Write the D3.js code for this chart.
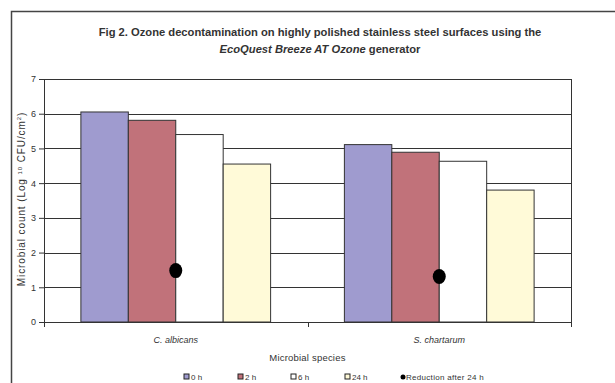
<!DOCTYPE html>
<html>
<head>
<meta charset="utf-8">
<script src="https://cdn.jsdelivr.net/npm/d3@7"></script>
<style>
  body { margin: 0; background: #fff; }
  text { font-family: "Liberation Sans", Arial, sans-serif; fill: #222; }
</style>
</head>
<body>
<div id="chart"></div>
<script>
// data
const species = ["C. albicans", "S. chartarum"];
const times = ["0 h", "2 h", "6 h", "24 h"];
const counts = [
    [6.05, 5.81, 5.40, 4.55],   // C. albicans
    [5.11, 4.89, 4.63, 3.80]    // S. chartarum
];
const reduction = [1.48, 1.31];
const yTicks = [0, 1, 2, 3, 4, 5, 6, 7];
const colors = ["#9f9bcf", "#c1727a", "#ffffff", "#fffad8"];

const W = 615, H = 383;
const margin = {top: 79, right: 44, bottom: 61, left: 44};
const width = W - margin.left - margin.right;
const height = H - margin.top - margin.bottom;

const svg = d3.select("#chart").append("svg")
    .attr("width", W)
    .attr("height", H);

// outer frame (runs off the right and bottom edge)
svg.append("path")
    .attr("d", `M11.5,${H + 2}V11.5H${W + 2}`)
    .attr("fill", "none")
    .attr("stroke", "#444")
    .attr("stroke-width", 1.5);

// title
const title = svg.append("text")
    .attr("x", 320)
    .attr("y", 36)
    .attr("text-anchor", "middle")
    .style("font-size", "11.2px")
    .style("font-weight", "bold")
    .style("fill", "#333");
title.append("tspan").text("Fig 2. Ozone decontamination on highly polished stainless steel surfaces using the");
const t2 = svg.append("text")
    .attr("x", 320)
    .attr("y", 53)
    .attr("text-anchor", "middle")
    .style("font-size", "11.2px")
    .style("font-weight", "bold")
    .style("fill", "#333");
t2.append("tspan").style("font-style", "italic").text("EcoQuest Breeze AT Ozone");
t2.append("tspan").text(" generator");

const chart = svg.append("g")
    .attr("transform", `translate(${margin.left}, ${margin.top})`);

const x0 = d3.scaleBand()
    .domain(species)
    .range([0, width])
    .paddingInner(0.28)
    .paddingOuter(0.14);
const x1 = d3.scaleBand()
    .domain(times)
    .range([0, x0.bandwidth()]);
const xMid = d3.scalePoint().domain(species).range([0, width]).padding(0.5);
const y = d3.scaleLinear()
    .domain([0, 7])
    .range([height, 0]);

// gridlines
chart.append("g")
    .selectAll("line")
    .data(yTicks.slice(1))
    .join("line")
    .attr("x1", 0)
    .attr("x2", width)
    .attr("y1", d => Math.round(y(d)) + 0.5)
    .attr("y2", d => Math.round(y(d)) + 0.5)
    .attr("stroke", "#333")
    .attr("stroke-width", 1);

// right border of plot
chart.append("line")
    .attr("x1", width + 0.5).attr("x2", width + 0.5)
    .attr("y1", 0).attr("y2", height + 5)
    .attr("stroke", "#333");

// bars
const groups = chart.selectAll(".grp")
    .data(species)
    .join("g")
    .attr("class", "grp")
    .attr("transform", d => `translate(${x0(d)}, 0)`);
groups.selectAll("rect")
    .data((d, i) => counts[i].map((v, j) => ({t: times[j], v: v, j: j})))
    .join("rect")
    .attr("x", d => x1(d.t))
    .attr("y", d => y(d.v))
    .attr("width", x1.bandwidth())
    .attr("height", d => height - y(d.v))
    .attr("fill", d => colors[d.j])
    .attr("stroke", "#333")
    .attr("stroke-width", 1);

// y axis
const yAxis = d3.axisLeft(y)
    .tickValues(yTicks)
    .tickFormat(d3.format("d"))
    .tickSize(5)
    .tickPadding(3);
const yg = chart.append("g").call(yAxis);
yg.select(".domain").attr("stroke", "#333");
yg.selectAll(".tick line").attr("stroke", "#333");
yg.selectAll("text").style("font-size", "9px").style("fill", "#333");

// x axis baseline with ticks between categories
chart.append("line")
    .attr("x1", 0).attr("x2", width)
    .attr("y1", height + 0.5).attr("y2", height + 0.5)
    .attr("stroke", "#333");
chart.append("g")
    .selectAll("line")
    .data([0, width / 2])
    .join("line")
    .attr("x1", d => Math.round(d) + 0.5)
    .attr("x2", d => Math.round(d) + 0.5)
    .attr("y1", height)
    .attr("y2", height + 5)
    .attr("stroke", "#333");
chart.append("g")
    .selectAll("text")
    .data(species)
    .join("text")
    .attr("x", d => xMid(d))
    .attr("y", height + 21)
    .attr("text-anchor", "middle")
    .style("font-size", "9px")
    .style("font-style", "italic")
    .style("fill", "#333")
    .text(d => d);

// reduction markers
chart.selectAll(".dot")
    .data(species)
    .join("ellipse")
    .attr("class", "dot")
    .attr("cx", d => x0(d) + x0.bandwidth() / 2)
    .attr("cy", (d, i) => y(reduction[i]))
    .attr("rx", 6.5)
    .attr("ry", 7.5)
    .attr("fill", "#000");

// axis titles
svg.append("text")
    .attr("x", margin.left + width / 2)
    .attr("y", 361)
    .attr("text-anchor", "middle")
    .style("font-size", "9.5px")
    .style("letter-spacing", "0.2px")
    .style("fill", "#333")
    .text("Microbial species");

const ylab = svg.append("text")
    .attr("transform", `translate(25, 199) rotate(-90)`)
    .attr("text-anchor", "middle")
    .style("font-size", "10px")
    .style("letter-spacing", "0.9px")
    .style("fill", "#333");
ylab.append("tspan").text("Microbial count (Log ");
ylab.append("tspan").attr("dy", -3).style("font-size", "6px").text("10");
ylab.append("tspan").attr("dy", 3).text(" CFU/cm");
ylab.append("tspan").attr("dy", -4).style("font-size", "6px").text("2");
ylab.append("tspan").attr("dy", 4).text(")");

// legend
const legendX = [184, 238, 291, 345];
const leg = svg.append("g");
const li = leg.selectAll("g")
    .data(times)
    .join("g")
    .attr("transform", (d, i) => `translate(${legendX[i]}, 374)`);
li.append("rect")
    .attr("width", 5).attr("height", 5)
    .attr("fill", (d, i) => colors[i])
    .attr("stroke", "#222")
    .attr("stroke-width", 1);
li.append("text")
    .attr("x", 7).attr("y", 6)
    .style("font-size", "8px")
    .style("fill", "#333")
    .text(d => d);
const ld = leg.append("g").attr("transform", "translate(403, 377)");
ld.append("circle").attr("r", 2.5).attr("fill", "#000");
ld.append("text")
    .attr("x", 3).attr("y", 3)
    .style("font-size", "8px")
    .style("letter-spacing", "0.3px")
    .style("fill", "#333")
    .text("Reduction after 24 h");
</script>
</body>
</html>
